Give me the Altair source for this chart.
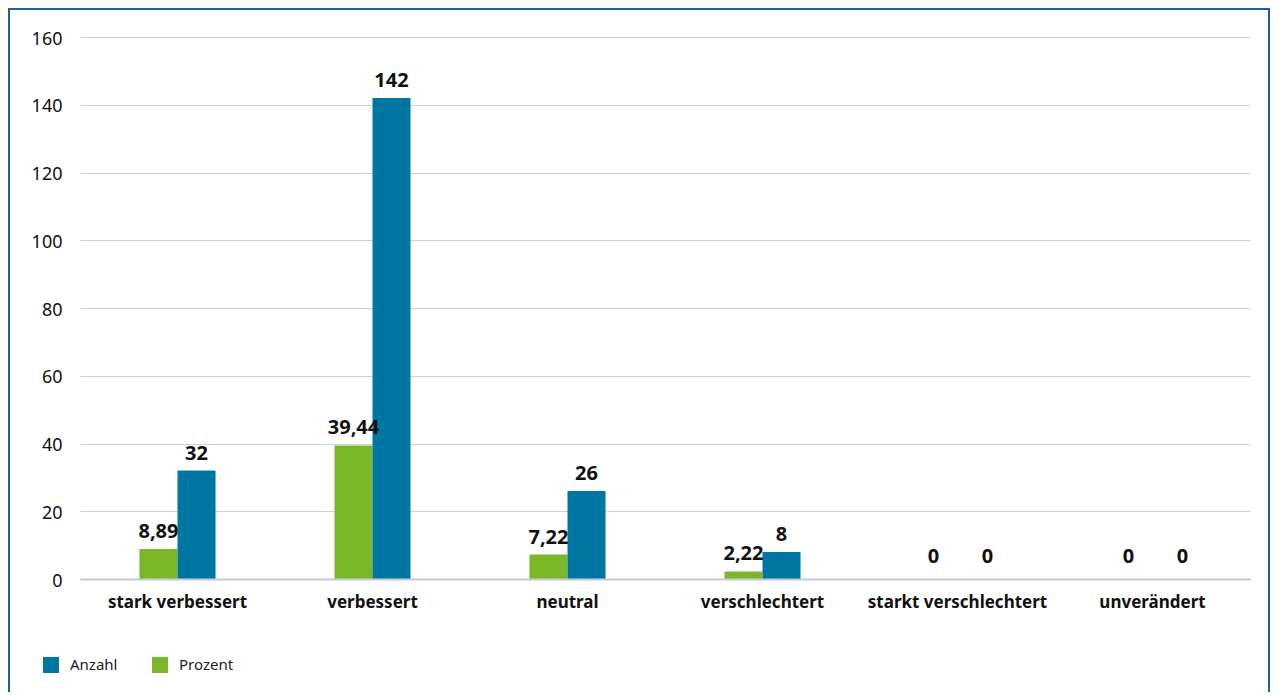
import altair as alt
import pandas as pd

categories = ["stark verbessert", "verbessert", "neutral", "verschlechtert",
              "starkt verschlechtert", "unverändert"]
anzahl = [32, 142, 26, 8, 0, 0]
prozent = [8.89, 39.44, 7.22, 2.22, 0, 0]
series = ["Anzahl", "Prozent"]
colors = ["#0076a2", "#7ab829"]

def fmt(v):
    if float(v).is_integer():
        return str(int(v))
    return f"{v:.2f}".replace(".", ",")

rows = []
for c, a, p in zip(categories, anzahl, prozent):
    rows.append({"Kategorie": c, "Serie": "Prozent", "Wert": p, "Label": fmt(p)})
    rows.append({"Kategorie": c, "Serie": "Anzahl", "Wert": a, "Label": fmt(a)})
df = pd.DataFrame(rows)

FONT = "Noto Sans"

x_enc = alt.X("Kategorie:N", sort=categories,
              scale=alt.Scale(paddingInner=0.61, paddingOuter=0.305),
              axis=alt.Axis(title=None, labelAngle=0, ticks=False, domain=True,
                            domainColor="#c3ccd3", domainWidth=2,
                            labelFont=FONT, labelFontSize=17, labelFontWeight="bold",
                            labelColor="#111111", labelPadding=15, zindex=1))
xo_enc = alt.XOffset("Serie:N", scale=alt.Scale(domain=["Prozent", "Anzahl"], paddingInner=0))
y_enc = alt.Y("Wert:Q", scale=alt.Scale(domain=[0, 160]),
              axis=alt.Axis(title=None, values=list(range(0, 161, 20)), ticks=False,
                            domain=False, grid=True, gridColor="#c5d3dc", gridWidth=1.2,
                            labelFont=FONT, labelFontSize=18, labelColor="#111111",
                            labelPadding=18, labelOffset=2))

bars = alt.Chart(df).mark_bar().encode(
    x=x_enc, xOffset=xo_enc, y=y_enc,
    color=alt.Color("Serie:N", scale=alt.Scale(domain=series, range=colors),
                    legend=alt.Legend(title=None, orient="none", legendX=-37, legendY=620,
                                      direction="horizontal", symbolType="square",
                                      symbolSize=256, symbolStrokeWidth=0,
                                      labelFont=FONT, labelFontSize=15,
                                      labelColor="#222222", labelOffset=11,
                                      columnPadding=34)),
)

txt = dict(baseline="bottom", font=FONT, fontSize=20, fontWeight="bold", color="#111111")
enc = dict(x=alt.X("Kategorie:N", sort=categories), xOffset=alt.XOffset("Serie:N"),
           y="Wert:Q", text="Label:N")

labels = alt.Chart(df).transform_filter("datum.Wert > 0").mark_text(dy=-7, **txt).encode(**enc)
zero_p = alt.Chart(df).transform_filter("datum.Wert == 0 && datum.Serie == 'Prozent'").mark_text(
    dy=-12, dx=-5, **txt).encode(**enc)
zero_a = alt.Chart(df).transform_filter("datum.Wert == 0 && datum.Serie == 'Anzahl'").mark_text(
    dy=-12, dx=11, **txt).encode(**enc)

frame_df = pd.DataFrame({"a": [0]})
frame = alt.Chart(frame_df).mark_rect(fillOpacity=0, stroke="#1f5f94", strokeWidth=2).encode(
    x=alt.value(-71), x2=alt.value(1189), y=alt.value(-28), y2=alt.value(700))

chart = alt.layer(frame, bars, labels, zero_p, zero_a).properties(
    width=1170, height=542,
    autosize=alt.AutoSizeParams(type="none"),
    padding={"left": 72, "top": 29, "right": 20, "bottom": 113},
    background="white",
).configure_view(stroke=None)

chart.save("out.html", embed_options={"renderer": "svg", "actions": False})
